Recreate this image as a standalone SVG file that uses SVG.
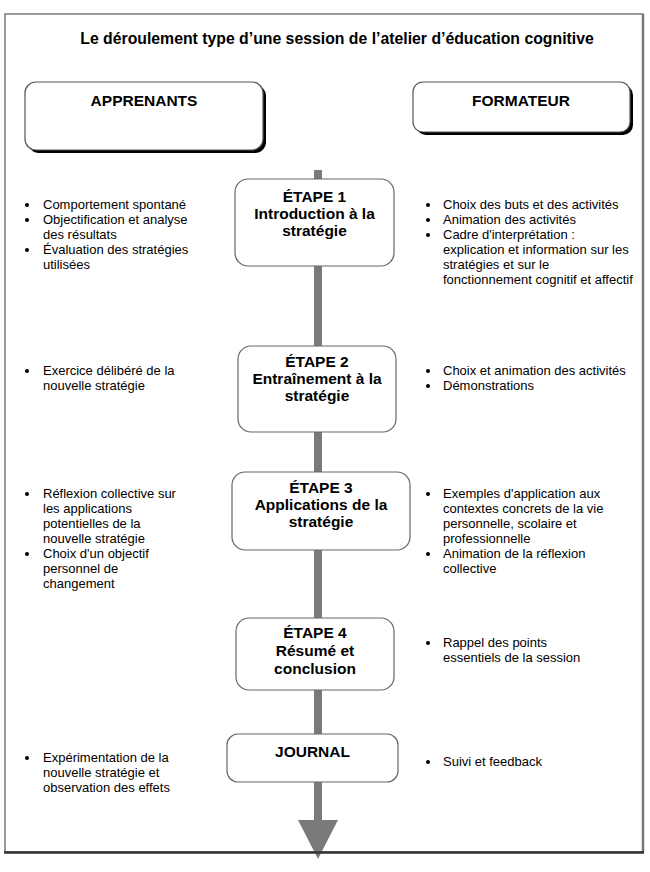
<svg xmlns="http://www.w3.org/2000/svg" width="650" height="872" viewBox="0 0 650 872">
<style>
.title{font-family:"Liberation Sans",Arial,sans-serif;font-weight:bold;font-size:15.8px;fill:#000}
.lbl{font-family:"Liberation Sans",Arial,sans-serif;font-weight:bold;font-size:15.5px;fill:#000;text-anchor:middle}
.txt{font-family:"Liberation Sans",Arial,sans-serif;font-size:13px;fill:#000}
.hdr{fill:#fff;stroke:#555;stroke-width:1.2}
.shadow{fill:#000}
.step{fill:#fff;stroke:#666;stroke-width:1.2}
.bul{fill:#000}
</style>
<rect x="0" y="0" width="650" height="872" fill="#fff"/>
<g id="connectors">
  <rect x="314" y="170" width="8" height="652" fill="#7a7a7a"/>
  <polygon points="298,820 338,820 318,859" fill="#7a7a7a"/>
</g>
<g id="frame">
  <rect x="5" y="14" width="638" height="838" fill="none" stroke="#7a7a7a" stroke-width="1.5"/>
  <line x1="643" y1="14" x2="643" y2="853" stroke="#777" stroke-width="2.5"/>
  <line x1="4" y1="852.5" x2="644" y2="852.5" stroke="#333" stroke-width="2.5"/>
</g>
<text class="title" x="337" y="44" text-anchor="middle">Le déroulement type d’une session de l’atelier d’éducation cognitive</text>
<g id="apprenants">
  <rect class="shadow" x="28" y="85" width="238" height="68" rx="11"/>
  <rect class="hdr" x="25" y="82" width="238" height="68" rx="11"/>
  <text class="lbl" x="144" y="106">APPRENANTS</text>
</g>
<g id="formateur">
  <rect class="shadow" x="416" y="85" width="217" height="50" rx="10"/>
  <rect class="hdr" x="413" y="82" width="217" height="50" rx="10"/>
  <text class="lbl" x="521" y="106">FORMATEUR</text>
</g>
<g id="etape1">
  <rect class="step" x="235" y="179" width="159" height="87" rx="13"/>
  <text class="lbl" x="314.5" y="202">ÉTAPE 1</text>
  <text class="lbl" x="314.5" y="219">Introduction à la</text>
  <text class="lbl" x="314.5" y="236">stratégie</text>
</g>
<g id="etape1-apprenants">
  <circle class="bul" cx="27" cy="205" r="2"/>
  <text class="txt" x="43" y="209">Comportement spontané</text>
  <circle class="bul" cx="27" cy="220" r="2"/>
  <text class="txt" x="43" y="224">Objectification et analyse</text>
  <text class="txt" x="43" y="239">des résultats</text>
  <circle class="bul" cx="27" cy="250" r="2"/>
  <text class="txt" x="43" y="254">Évaluation des stratégies</text>
  <text class="txt" x="43" y="269">utilisées</text>
</g>
<g id="etape1-formateur">
  <circle class="bul" cx="428" cy="205" r="2"/>
  <text class="txt" x="443" y="209">Choix des buts et des activités</text>
  <circle class="bul" cx="428" cy="220" r="2"/>
  <text class="txt" x="443" y="224">Animation des activités</text>
  <circle class="bul" cx="428" cy="235" r="2"/>
  <text class="txt" x="443" y="239">Cadre d'interprétation :</text>
  <text class="txt" x="443" y="254">explication et information sur les</text>
  <text class="txt" x="443" y="269">stratégies et sur le</text>
  <text class="txt" x="443" y="284">fonctionnement cognitif et affectif</text>
</g>
<g id="etape2">
  <rect class="step" x="238" y="346" width="158" height="86" rx="13"/>
  <text class="lbl" x="317" y="367">ÉTAPE 2</text>
  <text class="lbl" x="317" y="384">Entraînement à la</text>
  <text class="lbl" x="317" y="401">stratégie</text>
</g>
<g id="etape2-apprenants">
  <circle class="bul" cx="27" cy="371" r="2"/>
  <text class="txt" x="43" y="375">Exercice délibéré de la</text>
  <text class="txt" x="43" y="390">nouvelle stratégie</text>
</g>
<g id="etape2-formateur">
  <circle class="bul" cx="428" cy="371" r="2"/>
  <text class="txt" x="443" y="375">Choix et animation des activités</text>
  <circle class="bul" cx="428" cy="386" r="2"/>
  <text class="txt" x="443" y="390">Démonstrations</text>
</g>
<g id="etape3">
  <rect class="step" x="232" y="472" width="178" height="78" rx="13"/>
  <text class="lbl" x="321" y="493">ÉTAPE 3</text>
  <text class="lbl" x="321" y="510">Applications de la</text>
  <text class="lbl" x="321" y="527">stratégie</text>
</g>
<g id="etape3-apprenants">
  <circle class="bul" cx="27" cy="494" r="2"/>
  <text class="txt" x="43" y="498">Réflexion collective sur</text>
  <text class="txt" x="43" y="513">les applications</text>
  <text class="txt" x="43" y="528">potentielles de la</text>
  <text class="txt" x="43" y="543">nouvelle stratégie</text>
  <circle class="bul" cx="27" cy="554" r="2"/>
  <text class="txt" x="43" y="558">Choix d'un objectif</text>
  <text class="txt" x="43" y="573">personnel de</text>
  <text class="txt" x="43" y="588">changement</text>
</g>
<g id="etape3-formateur">
  <circle class="bul" cx="428" cy="494" r="2"/>
  <text class="txt" x="443" y="498">Exemples d'application aux</text>
  <text class="txt" x="443" y="513">contextes concrets de la vie</text>
  <text class="txt" x="443" y="528">personnelle, scolaire et</text>
  <text class="txt" x="443" y="543">professionnelle</text>
  <circle class="bul" cx="428" cy="554" r="2"/>
  <text class="txt" x="443" y="558">Animation de la réflexion</text>
  <text class="txt" x="443" y="573">collective</text>
</g>
<g id="etape4">
  <rect class="step" x="236" y="618" width="158" height="72" rx="13"/>
  <text class="lbl" x="315" y="638">ÉTAPE 4</text>
  <text class="lbl" x="315" y="656">Résumé et</text>
  <text class="lbl" x="315" y="674">conclusion</text>
</g>
<g id="etape4-formateur">
  <circle class="bul" cx="428" cy="643" r="2"/>
  <text class="txt" x="443" y="647">Rappel des points</text>
  <text class="txt" x="443" y="662">essentiels de la session</text>
</g>
<g id="journal">
  <rect class="step" x="227" y="734" width="171" height="48" rx="11"/>
  <text class="lbl" x="312.5" y="757">JOURNAL</text>
</g>
<g id="journal-apprenants">
  <circle class="bul" cx="27" cy="758" r="2"/>
  <text class="txt" x="43" y="762">Expérimentation de la</text>
  <text class="txt" x="43" y="777">nouvelle stratégie et</text>
  <text class="txt" x="43" y="792">observation des effets</text>
</g>
<g id="journal-formateur">
  <circle class="bul" cx="428" cy="762" r="2"/>
  <text class="txt" x="443" y="766">Suivi et feedback</text>
</g>
</svg>
